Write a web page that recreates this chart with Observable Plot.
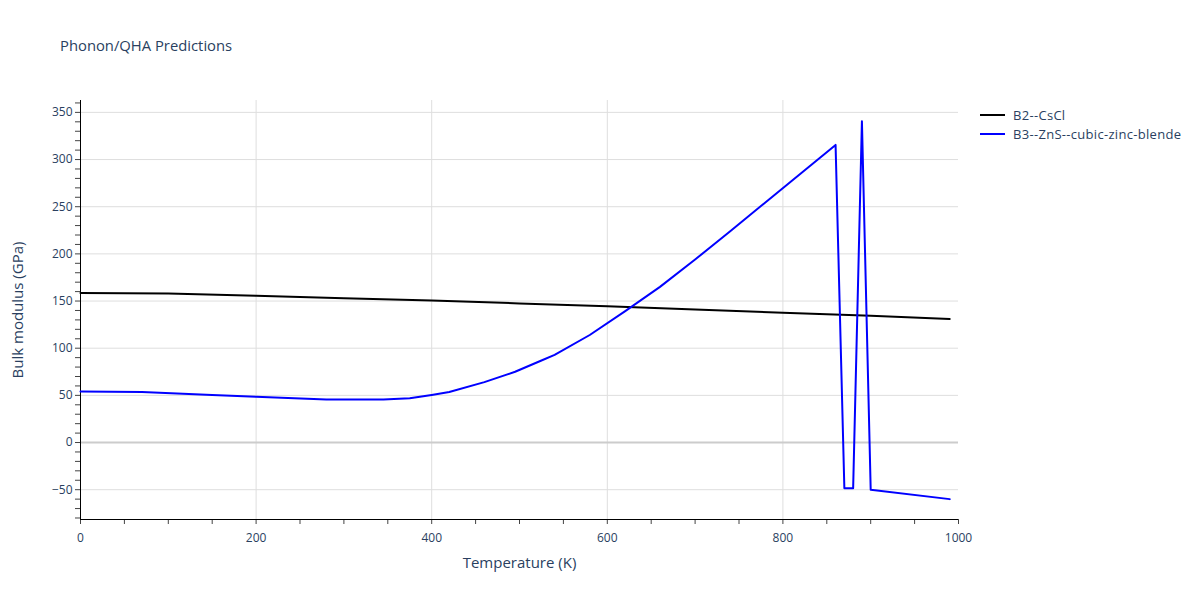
<!DOCTYPE html>
<html>
<head>
<meta charset="utf-8">
<script src="https://cdn.jsdelivr.net/npm/d3@7"></script>
<script src="https://cdn.jsdelivr.net/npm/@observablehq/plot@0.6"></script>
<style>
  body { margin: 0; background: #fff; font-family: "Open Sans", Verdana, Arial, sans-serif; }
  #wrap { position: relative; width: 1200px; height: 600px; }
  #title { position: absolute; left: 60px; top: 35px; font-size: 14.8px; color: #2a3f5f; }
  #legend { position: absolute; left: 980px; top: 105px; font-size: 13px; letter-spacing: 0.3px; color: #2a3f5f; }
  .item { display: flex; align-items: center; height: 19px; }
  .swatch { width: 25px; height: 2px; margin-right: 8px; }
</style>
</head>
<body>
<div id="wrap">
  <div id="title">Phonon/QHA Predictions</div>
  <div id="legend"></div>
</div>
<script>
// Data
const seriesNames = ["B2--CsCl", "B3--ZnS--cubic-zinc-blende"];
const seriesColors = ["#000000", "#0000ff"];

const tempB2 = [0, 100, 200, 300, 400, 500, 600, 700, 800, 900, 990];
const bulkB2 = [158.5, 158, 155.5, 153, 150.5, 147.5, 144.5, 141, 137.5, 134.5, 131];

const tempB3 = [0, 70, 150, 200, 280, 345, 375, 400, 420, 460, 495, 525, 540, 580, 620, 660, 700, 740, 780, 820, 860, 870, 880, 890, 900, 990];
const bulkB3 = [54, 53.5, 50.5, 48.5, 45.5, 45.5, 47, 50.5, 53.5, 64, 75, 87, 93, 114, 139, 165, 194, 224, 254.5, 285, 315.5, -48.5, -48.5, 340.5, -50, -60];

const xTicks = [0, 200, 400, 600, 800, 1000];
const xGrid = [200, 400, 600, 800];
const xMinor = d3.range(0, 1001, 50);
const yTicks = [-50, 0, 50, 100, 150, 200, 250, 300, 350];
const yMinor = d3.range(-80, 361, 10);
const xDomain = [0, 1000];
const yDomain = [-81.6, 362.6];
const xLabel = "Temperature (K)";
const yLabel = "Bulk modulus (GPa)";

const data = [
  ...tempB2.map((t, i) => ({T: t, K: bulkB2[i], s: seriesNames[0]})),
  ...tempB3.map((t, i) => ({T: t, K: bulkB3[i], s: seriesNames[1]}))
];

const textColor = "#2a3f5f";
const fmt = d => d < 0 ? "\u2212" + Math.abs(d) : String(d);

const chart = Plot.plot({
  width: 1200,
  height: 600,
  marginLeft: 80,
  marginRight: 242,
  marginTop: 100,
  marginBottom: 81,
  style: { fontFamily: "'Open Sans', Verdana, Arial, sans-serif", fontSize: "12px", background: "transparent", overflow: "visible" },
  x: { domain: xDomain, axis: null },
  y: { domain: yDomain, axis: null },
  color: { domain: seriesNames, range: seriesColors },
  marks: [
    Plot.ruleX(xGrid, { stroke: "#dedede", strokeWidth: 1 }),
    Plot.ruleY(yTicks.filter(d => d !== 0), { stroke: "#dedede", strokeWidth: 1 }),
    Plot.ruleY([0], { stroke: "#cccccc", strokeWidth: 2 }),
    Plot.axisY({ ticks: yMinor, tickSize: 5, tickFormat: () => "", stroke: "#444", label: null }),
    Plot.axisY({ ticks: yTicks, tickSize: 0, tickPadding: 8, tickFormat: fmt, fill: textColor, label: null }),
    Plot.axisX({ ticks: xMinor, tickSize: 5, tickFormat: () => "", stroke: "#444", label: null }),
    Plot.axisX({ ticks: xTicks, tickSize: 0, tickPadding: 14, tickFormat: fmt, fill: textColor, label: null }),
    Plot.ruleX([xDomain[0]], { stroke: "#000", strokeWidth: 1 }),
    Plot.ruleY([yDomain[0]], { stroke: "#000", strokeWidth: 1 }),
    Plot.line(data, { x: "T", y: "K", z: "s", stroke: "s", strokeWidth: 2 }),
    Plot.text([xLabel], { frameAnchor: "bottom", dy: 44, lineAnchor: "middle", textAnchor: "middle", fontSize: 15, fill: textColor }),
    Plot.text([yLabel], { frameAnchor: "left", dx: -62, rotate: -90, lineAnchor: "middle", textAnchor: "middle", fontSize: 15, fill: textColor })
  ]
});
document.getElementById("wrap").appendChild(chart);

const legend = document.getElementById("legend");
seriesNames.forEach((n, i) => {
  const it = document.createElement("div");
  it.className = "item";
  const sw = document.createElement("div");
  sw.className = "swatch";
  sw.style.background = seriesColors[i];
  const tx = document.createElement("span");
  tx.textContent = n;
  it.appendChild(sw); it.appendChild(tx);
  legend.appendChild(it);
});
</script>
</body>
</html>
